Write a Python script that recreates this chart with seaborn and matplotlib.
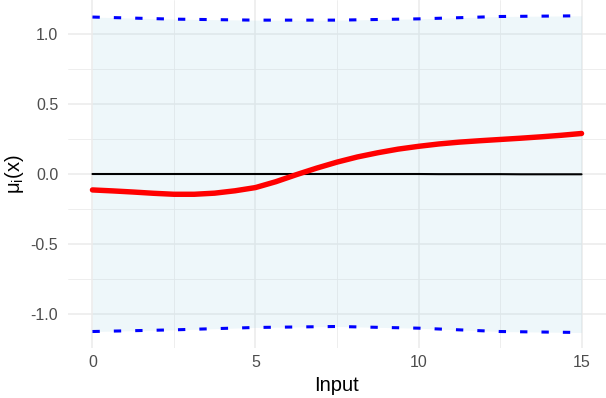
import numpy as np
import pandas as pd
import seaborn as sns
import matplotlib.pyplot as plt
from matplotlib.ticker import MultipleLocator

# values
x_mean = [0, 0.625, 1.25, 1.875, 2.5, 3.125, 3.75, 4.375, 5, 5.625, 6.25, 6.875, 7.5,
          8.125, 8.75, 9.375, 10, 10.625, 11.25, 11.875, 12.5, 13.125, 13.75, 14.375, 15]
mu_red = [-0.114, -0.121, -0.129, -0.138, -0.145, -0.145, -0.137, -0.12, -0.097, -0.055,
          -0.005, 0.042, 0.085, 0.122, 0.152, 0.178, 0.198, 0.215, 0.228, 0.238, 0.247,
          0.256, 0.266, 0.277, 0.29]
mu_black = [0.0] * 17 + [-0.001] * 4 + [-0.002] * 4

x_band = [0, 2.5, 5, 7.5, 10, 12.5, 15]
upper = [1.123, 1.108, 1.101, 1.101, 1.110, 1.127, 1.132]
lower = [-1.127, -1.115, -1.098, -1.091, -1.103, -1.127, -1.134]

sns.set_theme(style="whitegrid")
plt.rcParams["font.family"] = ["Liberation Sans", "DejaVu Sans"]
plt.rcParams["axes.unicode_minus"] = False
plt.rcParams["mathtext.default"] = "regular"

fig = plt.figure(figsize=(6.06, 3.98), dpi=100)
ax = fig.add_axes([0.1122, 0.1256, 0.8878, 0.8744])

ax.fill_between(x_band, lower, upper, color="#ADD8E6", alpha=0.2, lw=0, zorder=1)

band = pd.DataFrame({"x": x_band, "upper": upper, "lower": lower})
for col in ["upper", "lower"]:
    sns.lineplot(data=band, x="x", y=col, ax=ax, color="blue", lw=2.2,
                 dashes=False, zorder=3).lines[-1].set_dashes((2.4, 4.6))

mean_df = pd.DataFrame({"x": x_mean, "red": mu_red, "black": mu_black})
sns.lineplot(data=mean_df, x="x", y="black", ax=ax, color="black", lw=1.5, zorder=4)
sns.lineplot(data=mean_df, x="x", y="red", ax=ax, color="red", lw=3.9, zorder=5,
             solid_capstyle="round")

ax.set_xlim(-0.75, 15.75)
ax.set_ylim(-1.245, 1.245)
ax.xaxis.set_major_locator(MultipleLocator(5))
ax.xaxis.set_minor_locator(MultipleLocator(2.5))
ax.yaxis.set_major_locator(MultipleLocator(0.5))
ax.yaxis.set_minor_locator(MultipleLocator(0.25))
ax.set_facecolor("white")
ax.grid(which="major", color="#EBEBEB", lw=1.1)
ax.grid(which="minor", color="#EBEBEB", lw=0.6)
for s in ax.spines.values():
    s.set_visible(False)
ax.tick_params(which="both", length=0, labelsize=11.5, labelcolor="#4D4D4D")
ax.tick_params(axis="x", pad=5)
ax.tick_params(axis="y", pad=7)
ax.set_axisbelow(True)

ax.set_xlabel("Input", fontsize=14.5, color="black", labelpad=4)
ax.set_ylabel("μ$_i$(x)", fontsize=14.5, color="black", labelpad=3)

fig.savefig("out.png", dpi=100)
